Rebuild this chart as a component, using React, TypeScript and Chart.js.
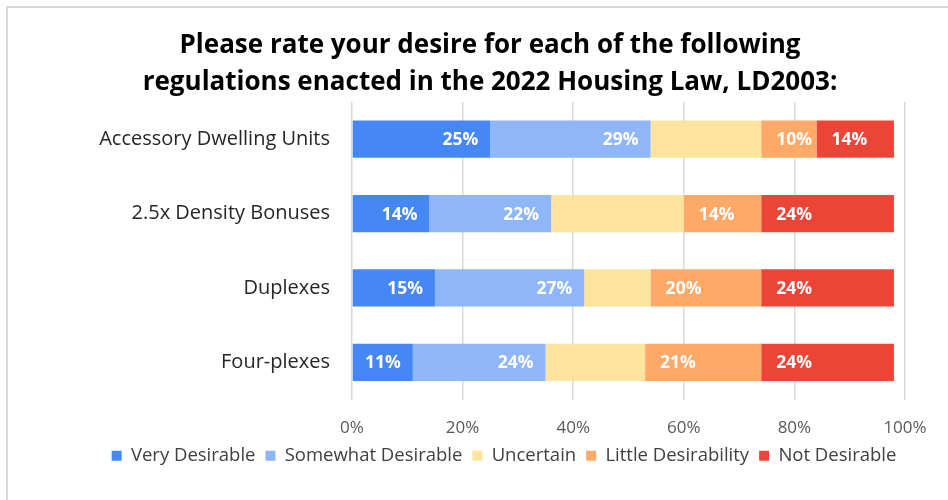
import React, { useEffect, useRef } from "react";
import { Chart, registerables } from "chart.js";

Chart.register(...registerables);

const categories = ["Accessory Dwelling Units", "2.5x Density Bonuses", "Duplexes", "Four-plexes"];
const seriesNames = ["Very Desirable", "Somewhat Desirable", "Uncertain", "Little Desirability", "Not Desirable"];
const veryDesirable = [25, 14, 15, 11];
const somewhatDesirable = [29, 22, 27, 24];
const uncertain = [20, 24, 12, 18];
const littleDesirability = [10, 14, 20, 21];
const notDesirable = [14, 24, 24, 24];
const seriesColors = ["#4487F5", "#8FB6F8", "#FCE39E", "#FFA968", "#EC4537"];
const labelMode = ["end", "end", "none", "start", "start"];
const titleLines = [
  "Please rate your desire for each of the following",
  "regulations enacted in the 2022 Housing Law, LD2003:",
];
const FONT = "'Open Sans', 'Liberation Sans', sans-serif";

const frameAndLabels = {
  id: "frameAndLabels",
  afterLayout(chart: any) {
    const t = chart.titleBlock;
    if (t) {
      t.left -= 28;
    }
  },
  beforeDraw(chart: any) {
    const ctx = chart.ctx;
    ctx.save();
    ctx.fillStyle = "#ffffff";
    ctx.fillRect(0, 0, chart.width, chart.height);
    ctx.fillStyle = "#d9d9d9";
    ctx.fillRect(6, 6, 2, chart.height - 6);
    ctx.fillRect(6, 6, chart.width - 6, 2);
    ctx.restore();
  },
  afterDatasetsDraw(chart: any) {
    const ctx = chart.ctx;
    ctx.save();
    ctx.font = `bold 17.5px ${FONT}`;
    ctx.fillStyle = "#ffffff";
    ctx.textBaseline = "middle";
    chart.data.datasets.forEach((ds: any, i: number) => {
      const mode = labelMode[i];
      if (mode === "none") return;
      const meta = chart.getDatasetMeta(i);
      meta.data.forEach((bar: any, j: number) => {
        const { x, y, base } = bar.getProps(["x", "y", "base"], true);
        const text = `${ds.data[j]}%`;
        if (mode === "end") {
          ctx.textAlign = "right";
          ctx.fillText(text, x - 12, y + 1);
        } else {
          ctx.textAlign = "left";
          ctx.fillText(text, base + 15, y + 1);
        }
      });
    });
    ctx.restore();
  },
};

export default function App() {
  const canvasRef = useRef<HTMLCanvasElement | null>(null);

  useEffect(() => {
    if (!canvasRef.current) return;
    const values = [veryDesirable, somewhatDesirable, uncertain, littleDesirability, notDesirable];
    const chart = new Chart(canvasRef.current, {
      type: "bar",
      data: {
        labels: categories,
        datasets: seriesNames.map((name, i) => ({
          label: name,
          data: values[i],
          backgroundColor: seriesColors[i],
          borderWidth: 0,
          barPercentage: 1,
          categoryPercentage: 0.5,
        })),
      },
      options: {
        indexAxis: "y",
        animation: false,
        responsive: true,
        maintainAspectRatio: false,
        layout: { padding: { left: 60, right: 0, top: 0, bottom: 25 } },
        plugins: {
          title: {
            display: true,
            text: titleLines,
            color: "#000000",
            font: { family: FONT, size: 26, weight: "bold", lineHeight: 37 / 26 },
            padding: { top: 27, bottom: 1 },
          },
          legend: {
            position: "bottom",
            labels: {
              boxWidth: 10,
              boxHeight: 10,
              padding: 10,
              color: "#404040",
              font: { family: FONT, size: 18.5 },
            },
          },
          tooltip: { enabled: false },
        },
        scales: {
          x: {
            stacked: true,
            min: 0,
            max: 100,
            ticks: {
              stepSize: 20,
              color: "#595959",
              padding: 18,
              font: { family: FONT, size: 17 },
              callback: (v: any) => `${v}%`,
            },
            grid: { color: "#d9d9d9", lineWidth: 1.5, drawTicks: false },
            border: { display: false },
            afterFit: (scale: any) => {
              scale.height = 37;
              scale.paddingRight = 43;
            },
          },
          y: {
            stacked: true,
            ticks: {
              color: "#262626",
              padding: 22,
              font: { family: FONT, size: 20 },
            },
            grid: { display: false, drawTicks: false },
            border: { display: false },
            afterFit: (scale: any) => {
              scale.width = 292;
            },
          },
        },
      },
      plugins: [frameAndLabels],
    } as any);
    return () => chart.destroy();
  }, []);

  return (
    <div style={{ position: "fixed", left: 0, top: 0, width: 948, height: 500 }}>
      <canvas ref={canvasRef} />
    </div>
  );
}
